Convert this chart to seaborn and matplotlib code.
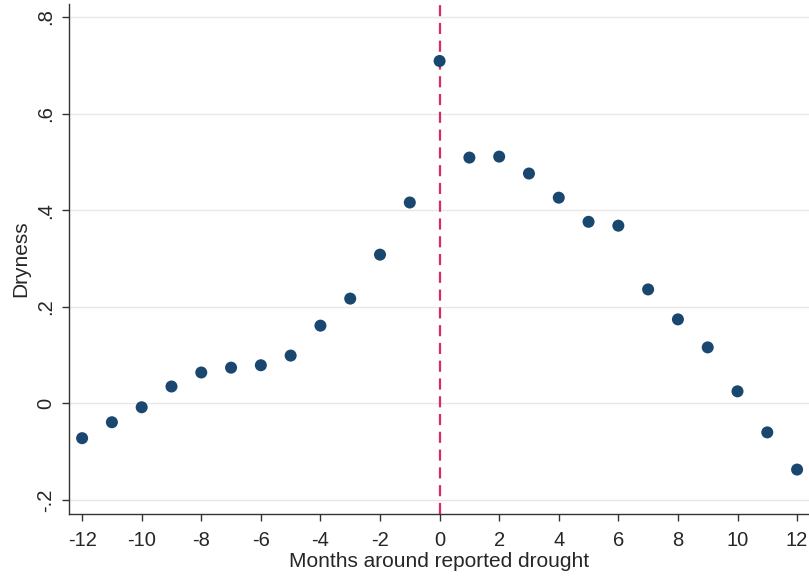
import matplotlib
matplotlib.use("Agg")
import matplotlib.pyplot as plt
import seaborn as sns
import pandas as pd

months = list(range(-12, 13))
dryness = [-0.072, -0.039, -0.008, 0.035, 0.064, 0.074, 0.079, 0.099, 0.161, 0.217,
           0.308, 0.416, 0.709, 0.509, 0.511, 0.476, 0.426, 0.376, 0.368, 0.236,
           0.174, 0.116, 0.025, -0.060, -0.137]
xticks = list(range(-12, 13, 2))
yticks = [-0.2, 0, 0.2, 0.4, 0.6, 0.8]
ytick_labels = ["-.2", "0", ".2", ".4", ".6", ".8"]

df = pd.DataFrame({"month": months, "dryness": dryness})

sns.set_style("white")
plt.rcParams['font.family'] = ['Liberation Sans', 'DejaVu Sans']

fig = plt.figure(figsize=(8.09, 5.79), dpi=100)
ax = fig.add_axes([69/809, 65/579, 1 - 69/809, (514-4)/579])

for t in yticks:
    ax.axhline(t, color="#e8e8e8", lw=1.0, zorder=0)
ax.axvline(0, color="#d62d5c", lw=1.6, ls=(0, (5, 3)), zorder=1)

sns.scatterplot(data=df, x="month", y="dryness", ax=ax, color="#1a476f",
                s=75, edgecolor="none", zorder=3)

ax.set_xlim(-12.44, 12.4)
ax.set_ylim(-0.229, 0.827)
ax.set_xticks(xticks)
ax.set_xticklabels([str(v) for v in xticks], fontsize=14.5)
ax.set_yticks(yticks)
ax.set_yticklabels(ytick_labels, fontsize=14.5, rotation=90, va="center")
ax.tick_params(axis="both", direction="out", length=5, width=1, color="#333333",
               left=True, bottom=True)
ax.tick_params(axis="x", pad=7)
ax.tick_params(axis="y", pad=5)
ax.set_xlabel("Months around reported drought", fontsize=15, labelpad=2)
ax.set_ylabel("Dryness", fontsize=15, labelpad=4)

for side in ["top", "right"]:
    ax.spines[side].set_visible(False)
for side in ["left", "bottom"]:
    ax.spines[side].set_color("#333333")
    ax.spines[side].set_linewidth(1.0)

fig.savefig("out.png", dpi=100)
